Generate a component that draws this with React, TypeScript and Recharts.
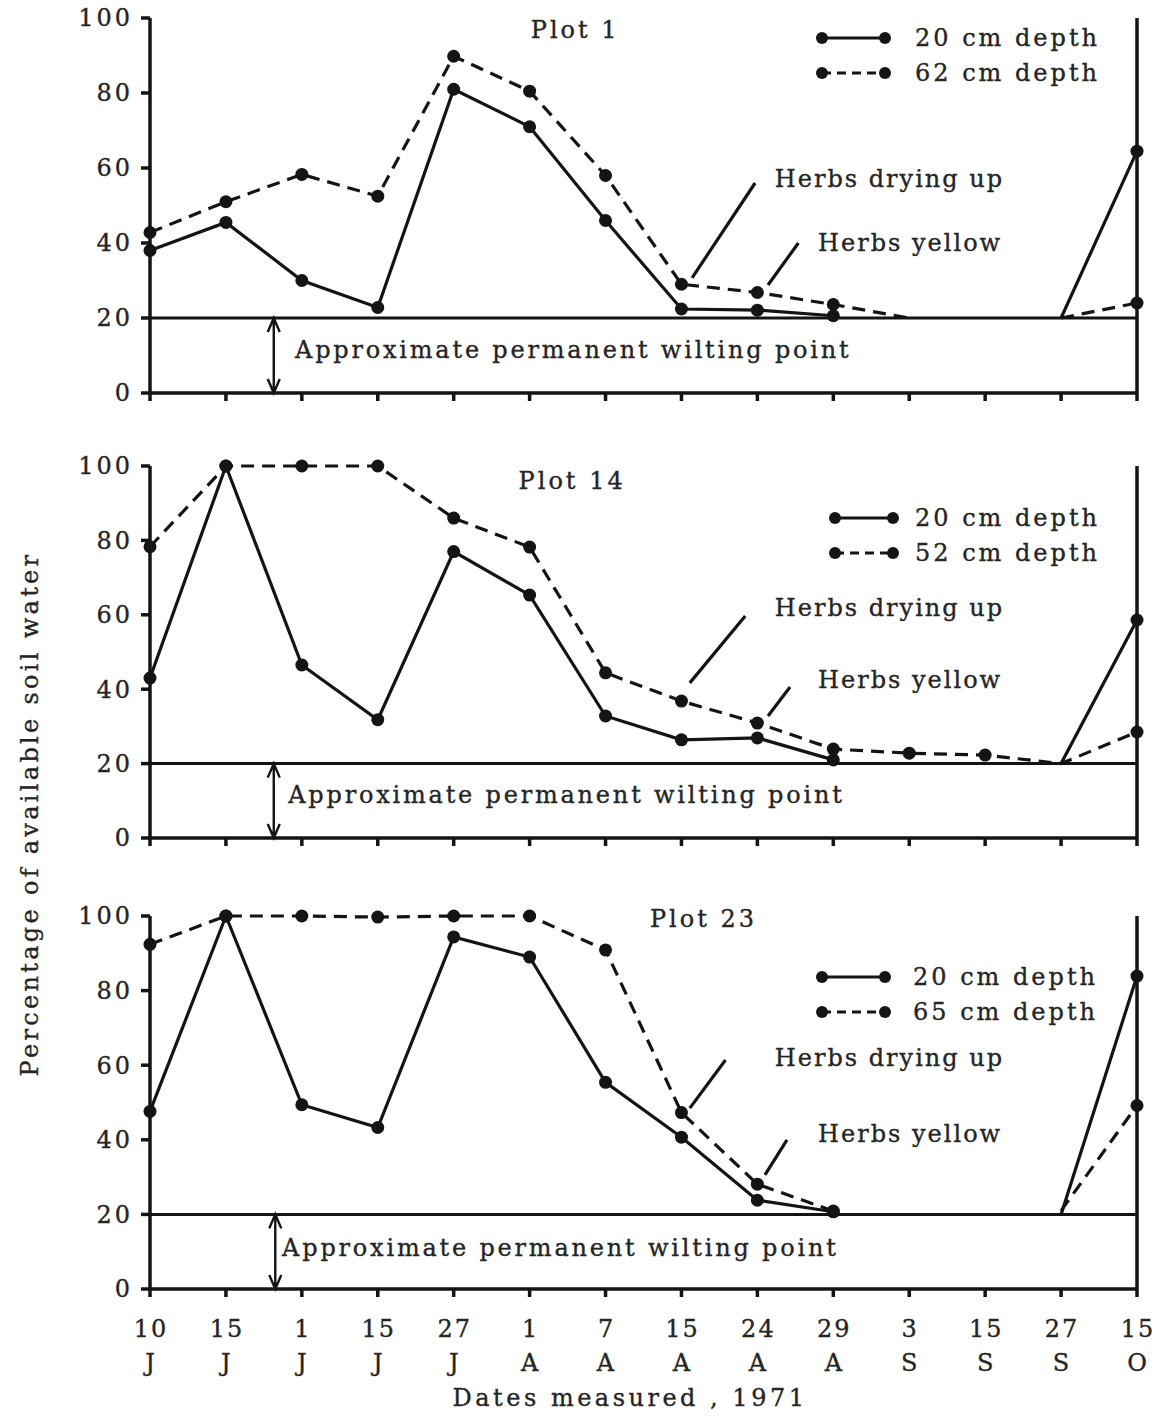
import React from "react";
import {
  LineChart,
  Line,
  XAxis,
  YAxis,
  ReferenceLine,
  ReferenceDot,
  Legend,
} from "recharts";

// measurement dates, 1971
const dayLabels = ["10", "15", "1", "15", "27", "1", "7", "15", "24", "29", "3", "15", "27", "15"];
const monthLabels = ["J", "J", "J", "J", "J", "A", "A", "A", "A", "A", "S", "S", "S", "O"];
const yTicks = [0, 20, 40, 60, 80, 100];
const wiltingPoint = 20;

// percent of available soil water, shallow (20 cm) and deep probes
const plot1Shallow = [38, 45.5, 30, 22.8, 81, 71, 46, 22.4, 22.1, 20.6, null, null, 20, 64.5];
const plot1Deep = [42.8, 51, 58.3, 52.5, 89.8, 80.5, 58, 29, 26.8, 23.6, 20, null, 20, 24];
const plot14Shallow = [43, 100, 46.5, 31.8, 77, 65.3, 32.8, 26.4, 26.9, 21, null, null, 20, 58.6];
const plot14Deep = [78.3, 100, 100, 100, 86, 78.2, 44.4, 36.8, 30.9, 23.9, 22.8, 22.3, 20, 28.5];
const plot23Shallow = [47.6, 100, 49.4, 43.3, 94.4, 89, 55.4, 40.7, 23.8, 20.7, null, null, 20, 83.9];
const plot23Deep = [92.4, 100, 100, 99.7, 100, 100, 90.9, 47.3, 28.1, 20.9, null, null, 21, 49.2];

// points where a line just starts or stops, drawn without a dot
const plot1ShallowBare = [12];
const plot1DeepBare = [10, 12];
const plot14ShallowBare = [12];
const plot14DeepBare = [12];
const plot23ShallowBare = [12];
const plot23DeepBare = [12];

const INK = "#141414";
const TEXT = "#252525";
const FONT = "'DejaVu Serif', serif";

type Series = (number | null)[];
type Pt = [number, number];

interface PanelProps {
  title: string;
  titleAt: Pt;
  shallow: Series;
  deep: Series;
  shallowBare: number[];
  deepBare: number[];
  deepName: string;
  top: number;
  height: number;
  marginTop: number;
  marginBottom: number;
  showDates: boolean;
  legendLeft: number;
  legendTop: number;
  legendLen: number;
  legendTextX: number;
  dryingText: Pt;
  dryingLine: [Pt, Pt];
  yellowText: Pt;
  yellowLine: [Pt, Pt];
  arrowX: number;
  wiltText: Pt;
}

const makeDot = (bare: number[]) => (props: any) => {
  const { cx, cy, index } = props;
  if (typeof cy !== "number" || isNaN(cy) || bare.includes(index)) {
    return <g key={`b${index}`} />;
  }
  return <circle key={`d${index}`} cx={cx} cy={cy} r={6.5} fill={INK} />;
};

const textStyle = (size: number, spacing: number) => ({
  fontFamily: FONT,
  fontSize: size,
  letterSpacing: spacing,
  fill: TEXT,
  stroke: TEXT,
  strokeWidth: 0.35,
});

// text placed in data coordinates
const note = (key: string, at: Pt, text: string, anchor: "start" | "middle", spacing = 2) => (
  <ReferenceDot
    key={key}
    x={at[0]}
    y={at[1]}
    r={0}
    ifOverflow="visible"
    shape={(p: any) => (
      <text x={p.cx} y={p.cy} dy="0.35em" textAnchor={anchor} style={textStyle(24, spacing)}>
        {text}
      </text>
    )}
  />
);

const leader = (key: string, seg: [Pt, Pt]) => (
  <ReferenceLine
    key={key}
    segment={[
      { x: seg[0][0], y: seg[0][1] },
      { x: seg[1][0], y: seg[1][1] },
    ]}
    stroke={INK}
    strokeWidth={3.2}
    ifOverflow="visible"
  />
);

// double-headed arrow between 0 and the wilting point
const DoubleArrow = (p: any) => {
  const x = p.x1;
  const top = Math.min(p.y1, p.y2);
  const bot = Math.max(p.y1, p.y2);
  const d = [
    `M${x},${top} L${x},${bot}`,
    `M${x - 6},${top + 14} L${x},${top} L${x + 6},${top + 14}`,
    `M${x - 6},${bot - 14} L${x},${bot} L${x + 6},${bot - 14}`,
  ].join(" ");
  return <path d={d} stroke={INK} strokeWidth={2.4} fill="none" />;
};

const LegendBox = ({ deepName, len, textX }: { deepName: string; len: number; textX: number }) => {
  const rows = [
    { name: "20 cm depth", dash: undefined as string | undefined, y: 18 },
    { name: deepName, dash: "9 6", y: 53 },
  ];
  return (
    <svg width={300} height={75}>
      {rows.map((r) => (
        <g key={r.name}>
          <line x1={10} y1={r.y} x2={10 + len} y2={r.y} stroke={INK} strokeWidth={3.2} strokeDasharray={r.dash} />
          <circle cx={10} cy={r.y} r={6} fill={INK} />
          <circle cx={10 + len} cy={r.y} r={6} fill={INK} />
          <text x={textX} y={r.y} dy="0.35em" style={textStyle(24, 3)}>
            {r.name}
          </text>
        </g>
      ))}
    </svg>
  );
};

const yTick = (p: any) => (
  <text x={p.x} y={p.y} dy="0.35em" textAnchor="end" style={textStyle(24, 3)}>
    {p.payload.value}
  </text>
);

const dateTick = (p: any) => {
  const i = p.payload.value;
  return (
    <text x={p.x} y={p.y} textAnchor="middle" style={textStyle(24, 2)}>
      <tspan x={p.x + 1} dy={38}>{dayLabels[i]}</tspan>
      <tspan x={p.x + 1} dy={34}>{monthLabels[i]}</tspan>
    </text>
  );
};

const emptyTick = () => <g />;

const Panel: React.FC<PanelProps> = (props) => {
  const rows = dayLabels.map((_, i) => ({
    i,
    shallow: props.shallow[i],
    deep: props.deep[i],
  }));
  const axisStyle = { stroke: INK, strokeWidth: 3.5 };

  return (
    <div style={{ position: "absolute", left: 0, top: props.top }}>
      <LineChart
        width={1157}
        height={props.height}
        data={rows}
        margin={{ top: props.marginTop, right: 0, bottom: props.marginBottom, left: 80 }}
      >
        <XAxis
          dataKey="i"
          type="number"
          domain={[0, 13]}
          ticks={dayLabels.map((_, i) => i)}
          interval={0}
          height={props.showDates ? 100 : 20}
          axisLine={axisStyle}
          tickLine={axisStyle}
          tickSize={8}
          tick={props.showDates ? dateTick : emptyTick}
        />
        <YAxis
          domain={[0, 100]}
          ticks={yTicks}
          interval={0}
          width={70}
          axisLine={axisStyle}
          tickLine={axisStyle}
          tickSize={9}
          tickMargin={8}
          tick={yTick}
        />
        <YAxis
          yAxisId="right"
          orientation="right"
          domain={[0, 100]}
          ticks={yTicks}
          interval={0}
          width={20}
          axisLine={axisStyle}
          tickLine={axisStyle}
          tickSize={9}
          tick={emptyTick}
        />
        <ReferenceLine y={wiltingPoint} stroke={INK} strokeWidth={3} />
        <ReferenceLine
          segment={[
            { x: props.arrowX, y: 0 },
            { x: props.arrowX, y: wiltingPoint },
          ]}
          shape={DoubleArrow}
        />
        {leader("dry", props.dryingLine)}
        {leader("yel", props.yellowLine)}
        {note("title", props.titleAt, props.title, "middle", 3)}
        {note("drytxt", props.dryingText, "Herbs drying up", "start")}
        {note("yeltxt", props.yellowText, "Herbs yellow", "start")}
        {note("wilt", props.wiltText, "Approximate permanent wilting point", "start", 2.8)}
        <Line
          dataKey="shallow"
          name="20 cm depth"
          type="linear"
          stroke={INK}
          strokeWidth={3.2}
          dot={makeDot(props.shallowBare)}
          activeDot={false}
          connectNulls={false}
          isAnimationActive={false}
        />
        <Line
          dataKey="deep"
          name={props.deepName}
          type="linear"
          stroke={INK}
          strokeWidth={3.2}
          strokeDasharray="13 8"
          dot={makeDot(props.deepBare)}
          activeDot={false}
          connectNulls={false}
          isAnimationActive={false}
        />
        <Legend
          layout="horizontal"
          verticalAlign="middle"
          align="center"
          wrapperStyle={{ left: props.legendLeft, top: props.legendTop, width: 300, height: 75 }}
          content={() => (
            <LegendBox deepName={props.deepName} len={props.legendLen} textX={props.legendTextX} />
          )}
        />
      </LineChart>
    </div>
  );
};

export default function App() {
  return (
    <div
      style={{
        position: "absolute",
        left: 0,
        top: 0,
        width: 1157,
        height: 1417,
        background: "#ffffff",
        fontFamily: FONT,
        color: TEXT,
        WebkitTextStroke: "0.35px " + TEXT,
      }}
    >
      <Panel
        title="Plot 1"
        titleAt={[5.6, 96.8]}
        shallow={plot1Shallow}
        deep={plot1Deep}
        shallowBare={plot1ShallowBare}
        deepBare={plot1DeepBare}
        deepName="62 cm depth"
        top={0}
        height={420}
        marginTop={18}
        marginBottom={7}
        showDates={false}
        legendLeft={812}
        legendTop={20}
        legendLen={63}
        legendTextX={103}
        dryingText={[8.23, 57.3]}
        dryingLine={[[7.14, 30.7], [7.97, 56]]}
        yellowText={[8.8, 40]}
        yellowLine={[[8.14, 28.8], [8.54, 40]]}
        arrowX={1.63}
        wiltText={[1.91, 11.5]}
      />
      <Panel
        title="Plot 14"
        titleAt={[5.56, 96.2]}
        shallow={plot14Shallow}
        deep={plot14Deep}
        shallowBare={plot14ShallowBare}
        deepBare={plot14DeepBare}
        deepName="52 cm depth"
        top={440}
        height={420}
        marginTop={26}
        marginBottom={2}
        showDates={false}
        legendLeft={825}
        legendTop={60}
        legendLen={58}
        legendTextX={90}
        dryingText={[8.23, 62]}
        dryingLine={[[7.11, 41.7], [7.84, 59.7]]}
        yellowText={[8.8, 42.5]}
        yellowLine={[[8.14, 32.8], [8.43, 40.6]]}
        arrowX={1.63}
        wiltText={[1.82, 11.6]}
      />
      <Panel
        title="Plot 23"
        titleAt={[7.29, 99.4]}
        shallow={plot23Shallow}
        deep={plot23Deep}
        shallowBare={plot23ShallowBare}
        deepBare={plot23DeepBare}
        deepName="65 cm depth"
        top={890}
        height={527}
        marginTop={26}
        marginBottom={28}
        showDates={true}
        legendLeft={812}
        legendTop={69}
        legendLen={63}
        legendTextX={101}
        dryingText={[8.23, 62]}
        dryingLine={[[7.11, 48.5], [7.58, 61.4]]}
        yellowText={[8.8, 41.6]}
        yellowLine={[[8.1, 30.6], [8.39, 40]]}
        arrowX={1.65}
        wiltText={[1.74, 11]}
      />
      <div
        style={{
          position: "absolute",
          left: 30,
          top: 814,
          transform: "translate(-50%, -50%) rotate(-90deg)",
          whiteSpace: "nowrap",
          fontSize: 24,
          letterSpacing: 3.3,
          lineHeight: "28px",
        }}
      >
        Percentage of available soil water
      </div>
      <div
        style={{
          position: "absolute",
          left: 630,
          top: 1384,
          transform: "translateX(-50%)",
          whiteSpace: "nowrap",
          fontSize: 24,
          letterSpacing: 3.5,
          lineHeight: "28px",
        }}
      >
        Dates measured , 1971
      </div>
    </div>
  );
}
